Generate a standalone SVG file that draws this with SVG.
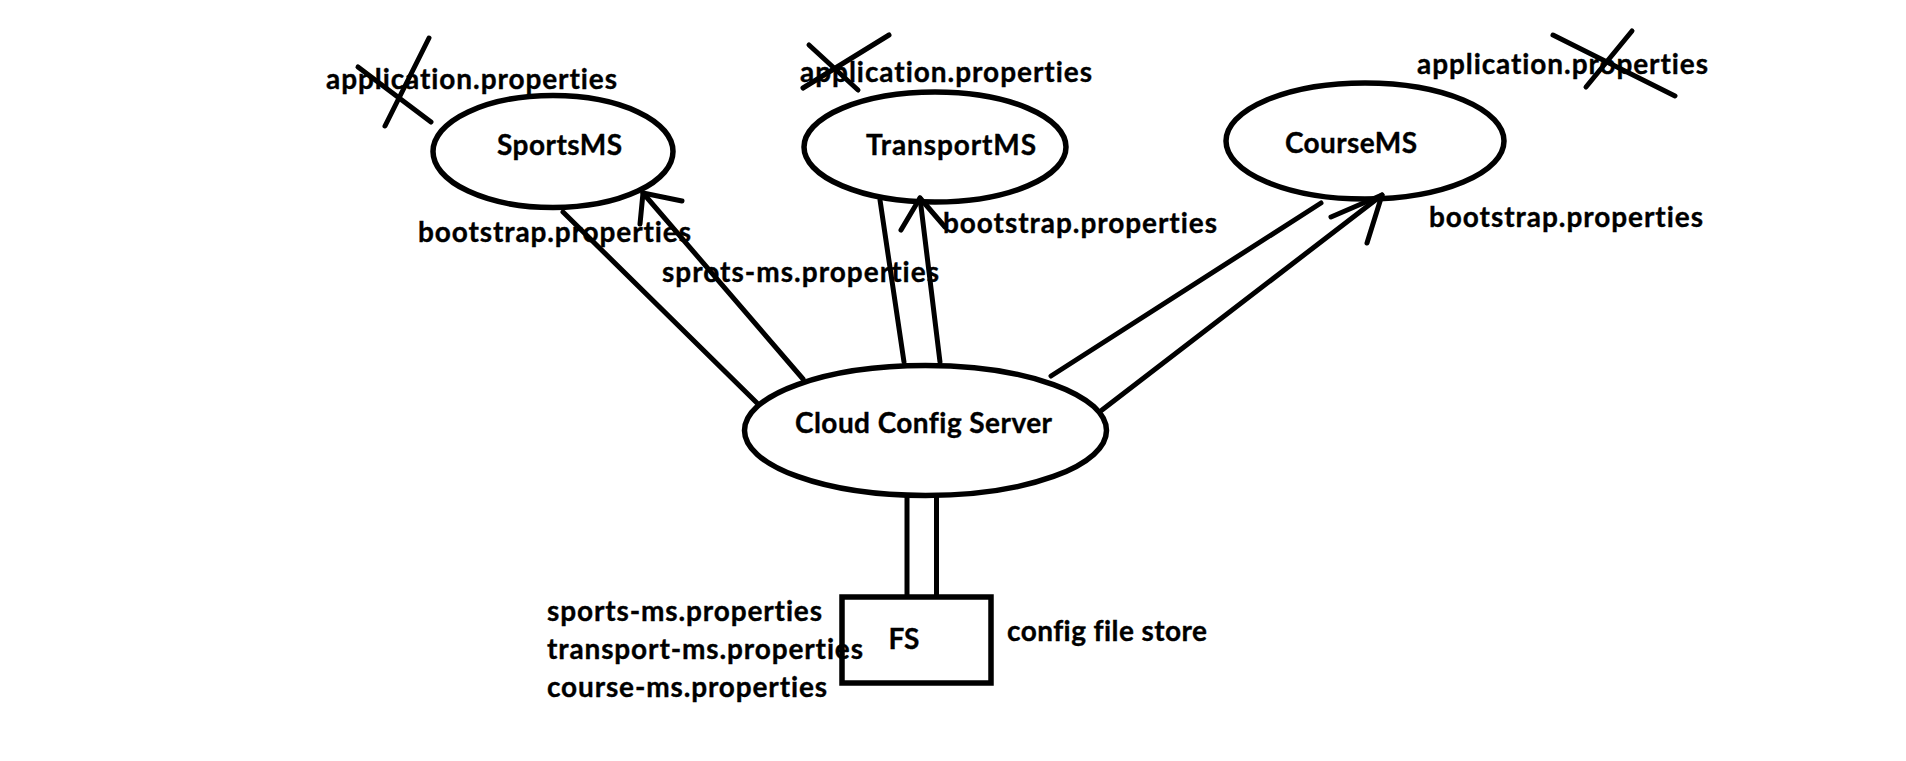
<svg xmlns="http://www.w3.org/2000/svg" width="1906" height="761" viewBox="0 0 1906 761">
<style>
.shape{fill:none;stroke:#000;stroke-width:5.5}
.ln{fill:none;stroke:#000;stroke-width:5;stroke-linecap:round;stroke-linejoin:round}
.cross{fill:none;stroke:#000;stroke-width:5;stroke-linecap:round}
text{font-family:Lato,"Open Sans","Liberation Sans",sans-serif;font-weight:bold;font-size:28px;fill:#000;stroke:#000;stroke-width:0.35;font-variant-ligatures:none;font-feature-settings:"liga" 0,"clig" 0}
</style>
<rect width="1906" height="761" fill="#fff"/>
<g id="connectors">
<line class="ln" x1="563" y1="212" x2="757" y2="403"/>
<line class="ln" x1="643" y1="193" x2="803" y2="379"/>
<polyline class="ln" points="640,224 643,193 682,201"/>
<line class="ln" x1="880" y1="200" x2="904" y2="362"/>
<line class="ln" x1="920" y1="198" x2="940" y2="362"/>
<polyline class="ln" points="901,230 920,198 945,227"/>
<line class="ln" x1="1321" y1="203" x2="1051" y2="376"/>
<line class="ln" x1="1382" y1="195" x2="1102" y2="410"/>
<polyline class="ln" points="1331,217 1382,195 1367,243"/>
<line class="ln" x1="907" y1="497" x2="907" y2="596"/>
<line class="ln" x1="936.5" y1="497" x2="936.5" y2="596"/>
</g>
<g id="sports">
<ellipse class="shape" cx="553" cy="151.5" rx="120" ry="56"/>
<text x="497" y="155" textLength="125">SportsMS</text>
<text x="326" y="89" textLength="291">application.properties</text>
<line class="cross" x1="429" y1="38" x2="385" y2="126"/>
<line class="cross" x1="358" y1="67" x2="431" y2="122"/>
<text x="418" y="242" textLength="273">bootstrap.properties</text>
<text x="662" y="282" textLength="277">sprots-ms.properties</text>
</g>
<g id="transport">
<ellipse class="shape" cx="935" cy="147" rx="131" ry="55"/>
<text x="866" y="155" textLength="170">TransportMS</text>
<text x="800" y="82" textLength="292">application.properties</text>
<line class="cross" x1="809" y1="45" x2="858" y2="90"/>
<line class="cross" x1="889" y1="35" x2="803" y2="88"/>
<text x="943" y="233" textLength="274">bootstrap.properties</text>
</g>
<g id="course">
<ellipse class="shape" cx="1365" cy="141" rx="139" ry="58"/>
<text x="1285" y="153" textLength="132">CourseMS</text>
<text x="1417" y="74" textLength="291">application.properties</text>
<line class="cross" x1="1553" y1="35" x2="1675" y2="96"/>
<line class="cross" x1="1632" y1="31" x2="1586" y2="87"/>
<text x="1429" y="227" textLength="274">bootstrap.properties</text>
</g>
<g id="config-server">
<ellipse class="shape" cx="925.5" cy="430.5" rx="181" ry="65"/>
<text x="795" y="433" textLength="257">Cloud Config Server</text>
</g>
<g id="fs">
<rect class="shape" x="842" y="597" width="149" height="86"/>
<text x="904" y="649" text-anchor="middle">FS</text>
<text x="1007" y="641" textLength="200">config file store</text>
<text x="547" y="621" textLength="275">sports-ms.properties</text>
<text x="547" y="659" textLength="316">transport-ms.properties</text>
<text x="547" y="697" textLength="280">course-ms.properties</text>
</g>
</svg>
